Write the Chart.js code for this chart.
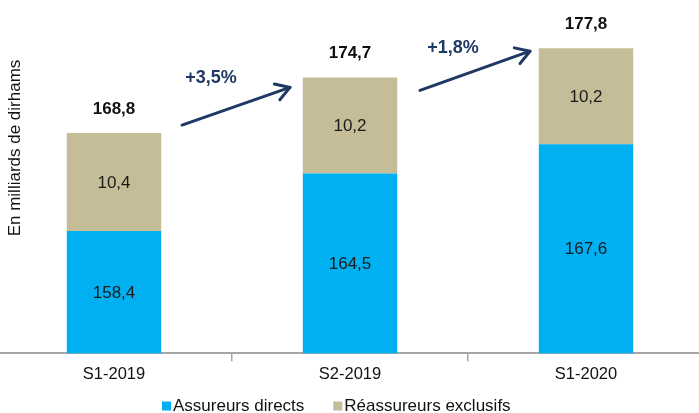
<!DOCTYPE html>
<html><head><meta charset="utf-8">
<script src="https://cdn.jsdelivr.net/npm/chart.js@4"></script>
<style>
html,body{margin:0;padding:0;background:#fff;overflow:hidden;width:699px;height:413px;}
#wrap{position:absolute;left:-4px;top:0;width:708px;height:413px;}
</style></head>
<body>
<div id="wrap"><canvas id="c" width="708" height="413"></canvas></div>
<script>
const categories = ["S1-2019", "S2-2019", "S1-2020"];
const assureursDirects = [158.4, 164.5, 167.6];
const reassureursExclusifs = [10.4, 10.2, 10.2];
const totals = [168.8, 174.7, 177.8];
const growthLabels = ["+3,5%", "+1,8%"];
const seriesNames = ["Assureurs directs", "Réassureurs exclusifs"];
const seriesColors = ["#00B0F0", "#C4BD97"];
const yTitle = "En milliards de dirhams";

const FONT = "'Liberation Sans', Arial, sans-serif";
const fmt = v => v.toFixed(1).replace('.', ',');

const overlay = {
  id: 'overlay',
  afterDatasetsDraw(chart) {
    const ctx = chart.ctx;
    const x = chart.scales.x, y = chart.scales.y;
    ctx.save();
    ctx.textAlign = 'center';
    ctx.textBaseline = 'middle';
    // segment labels
    chart.data.datasets.forEach((ds, di) => {
      const meta = chart.getDatasetMeta(di);
      meta.data.forEach((bar, i) => {
        const p = bar.getProps(['x', 'y', 'base'], true);
        ctx.fillStyle = '#1a1a1a';
        ctx.font = '17px ' + FONT;
        ctx.fillText(fmt(ds.data[i]), p.x, (p.y + Math.min(p.base, y.bottom)) / 2 + 1);
      });
    });
    // totals
    totals.forEach((t, i) => {
      ctx.font = 'bold 17px ' + FONT;
      ctx.fillStyle = '#111';
      ctx.fillText(fmt(t), x.getPixelForValue(i), y.getPixelForValue(t) - 24);
    });
    // arrows
    const arrows = [
      {sx: 68, sy: -8, ex: -60, ey: 10, lx: 97, ly: -55},
      {sx: 70, sy: 13, ex: -56, ey: 3, lx: 103, ly: -29}
    ];
    ctx.strokeStyle = '#1F3864';
    ctx.fillStyle = '#1F3864';
    ctx.lineWidth = 3;
    ctx.lineCap = 'round';
    ctx.lineJoin = 'round';
    arrows.forEach((a, i) => {
      const x1 = x.getPixelForValue(i) + a.sx, y1 = y.getPixelForValue(totals[i]) + a.sy;
      const x2 = x.getPixelForValue(i + 1) + a.ex, y2 = y.getPixelForValue(totals[i + 1]) + a.ey;
      ctx.beginPath(); ctx.moveTo(x1, y1); ctx.lineTo(x2, y2); ctx.stroke();
      const ang = Math.atan2(y2 - y1, x2 - x1), L = 16;
      ctx.beginPath();
      ctx.moveTo(x2 - L * Math.cos(ang - 0.55), y2 - L * Math.sin(ang - 0.55));
      ctx.lineTo(x2, y2);
      ctx.lineTo(x2 - L * Math.cos(ang + 0.55), y2 - L * Math.sin(ang + 0.55));
      ctx.stroke();
      ctx.font = 'bold 18px ' + FONT;
      ctx.fillText(growthLabels[i], x.getPixelForValue(i) + a.lx, y.getPixelForValue(totals[i]) + a.ly);
    });
    // y title
    ctx.save();
    ctx.translate(19, 148);
    ctx.rotate(-Math.PI / 2);
    ctx.font = '17px ' + FONT;
    ctx.fillStyle = '#111';
    ctx.fillText(yTitle, 0, 0);
    ctx.restore();
    // legend
    ctx.font = '17px ' + FONT;
    ctx.textAlign = 'left';
    ctx.textBaseline = 'middle';
    let lx = 166;
    seriesNames.forEach((n, i) => {
      ctx.fillStyle = seriesColors[i];
      ctx.fillRect(lx, 401.5, 9, 9);
      ctx.fillStyle = '#111';
      ctx.fillText(n, lx + 11, 406);
      lx += 11 + ctx.measureText(n).width + 29;
    });
    ctx.restore();
  }
};

new Chart(document.getElementById('c'), {
  type: 'bar',
  data: {
    labels: categories,
    datasets: [
      {label: seriesNames[0], data: assureursDirects, backgroundColor: seriesColors[0], borderWidth: 0},
      {label: seriesNames[1], data: reassureursExclusifs, backgroundColor: seriesColors[1], borderWidth: 0}
    ]
  },
  options: {
    responsive: false,
    animation: false,
    layout: {padding: {top: 10, left: 0, right: 0, bottom: 26}},
    datasets: {bar: {categoryPercentage: 1, barPercentage: 0.4}},
    plugins: {
      tooltip: {enabled: false},
      legend: {display: false}
    },
    scales: {
      x: {
        stacked: true,
        grid: {offset: true, drawOnChartArea: false, color: '#A6A6A6', tickLength: 8, lineWidth: 1.5},
        border: {color: '#A6A6A6', width: 2},
        ticks: {color: '#111', font: {family: FONT, size: 16.5}, padding: 3}
      },
      y: {
        stacked: true,
        display: false,
        min: 145.45,
        max: 181.85
      }
    }
  },
  plugins: [overlay]
});
</script>
</body></html>
